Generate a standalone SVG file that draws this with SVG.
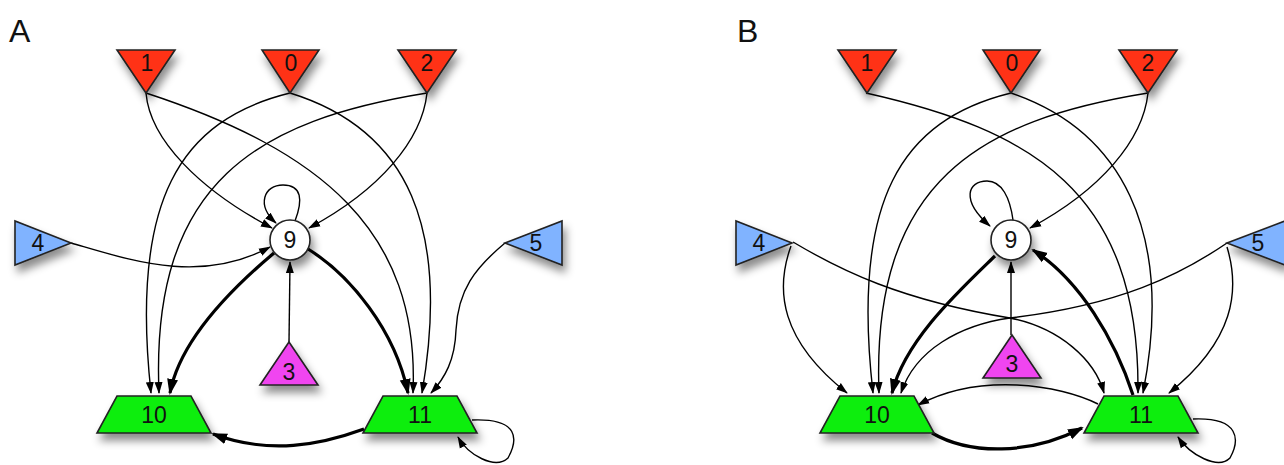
<svg xmlns="http://www.w3.org/2000/svg" width="1284" height="465" viewBox="0 0 1284 465">
<style>
.lbl{font-family:"Liberation Sans",Arial,sans-serif;font-size:23px;fill:#111;text-anchor:middle}
.pl{font-family:"Liberation Sans",Arial,sans-serif;font-size:32px;fill:#111}
.red{fill:#ff3314;stroke:#222;stroke-width:1.6}
.blue{fill:#80b3ff;stroke:#222;stroke-width:1.6}
.mag{fill:#f044f0;stroke:#222;stroke-width:1.6}
.grn{fill:#11ee11;stroke:#222;stroke-width:1.6}
.wht{fill:#fff;stroke:#222;stroke-width:1.6}
.e{fill:none;stroke:#000;stroke-width:1.4;marker-end:url(#a)}
.t{fill:none;stroke:#000;stroke-width:3.2;marker-end:url(#b)}
</style>
<defs>
<filter id="sh" x="-30%" y="-30%" width="170%" height="190%">
<feDropShadow dx="3" dy="7" stdDeviation="4" flood-color="#000" flood-opacity="0.45"/>
</filter>
<marker id="a" markerWidth="13" markerHeight="9" refX="11" refY="4.5" orient="auto" markerUnits="userSpaceOnUse"><path d="M0,0.5 L12,4.5 L0,8.5 Z" fill="#000"/></marker>
<marker id="b" markerWidth="17" markerHeight="12" refX="14" refY="6" orient="auto" markerUnits="userSpaceOnUse"><path d="M0,0.5 L16,6 L0,11.5 Z" fill="#000"/></marker>
</defs>
<rect width="1284" height="465" fill="#fff"/>
<text class="pl" x="9" y="42">A</text>
<text class="pl" x="737" y="42">B</text>

<g id="edges">
<!-- Panel A -->
<path class="e" d="M146,93 C150,140 200,190 272,228"/>
<path class="e" d="M427,93 C422,140 380,190 309,228"/>
<path class="e" d="M146,93 C320,150 420,230 413,393"/>
<path class="e" d="M290,93 C410,130 450,230 422,393"/>
<path class="e" d="M290,93 C180,120 130,200 151,393"/>
<path class="e" d="M427,93 C260,120 150,180 159,393"/>
<path class="e" d="M71,243 C130,260 200,285 270,247"/>
<path class="e" d="M289,342 L290,262"/>
<path class="e" d="M295,221 C303,200 302,185 283,185 C264,185 256,205 276,223"/>
<path class="t" d="M274,253 C230,290 180,340 170,393"/>
<path class="t" d="M308,249 C350,275 395,330 408,393"/>
<path class="e" d="M505,243 C475,268 458,290 456,330 C455,360 445,378 431,393"/>
<path class="t" d="M364,429 C320,445 270,455 213,434"/>
<path class="e" d="M472,420 C520,418 518,440 508,458 C495,470 468,455 458,437"/>
<!-- Panel B -->
<path class="e" d="M866,93 C1030,130 1140,190 1138,393"/>
<path class="e" d="M1011,93 C1120,130 1175,230 1143,393"/>
<path class="e" d="M1011,93 C901,120 851,200 873,393"/>
<path class="e" d="M1148,93 C981,120 871,180 879,393"/>
<path class="e" d="M1148,93 C1143,140 1101,190 1030,228"/>
<path class="e" d="M1013,220 C1010,198 1002,181 987,181 C968,181 960,200 990,226"/>
<path class="e" d="M1011,335 L1011,262"/>
<path class="t" d="M995,256 C960,290 905,340 892,393"/>
<path class="t" d="M1133,395 C1115,340 1080,280 1033,250"/>
<path class="e" d="M791,246 C775,290 780,340 847,393"/>
<path class="e" d="M793,242 C840,270 900,300 1010,318 C1060,328 1095,360 1104,393"/>
<path class="e" d="M1227,243 C1180,275 1120,305 1010,318 C960,325 915,350 901,393"/>
<path class="e" d="M1227,247 C1240,290 1235,340 1169,393"/>
<path class="e" d="M1098,404 C1060,385 980,372 918,405"/>
<path class="t" d="M932,433 C970,455 1030,455 1082,428"/>
<path class="e" d="M1193,419 C1240,417 1240,440 1230,458 C1218,470 1190,455 1178,437"/>
</g>

<!-- Panel A nodes -->
<g id="A1"><polygon class="red" filter="url(#sh)" points="117,50 175,50 146,93"/><text class="lbl" x="147" y="71">1</text></g>
<g id="A0"><polygon class="red" filter="url(#sh)" points="262,50 319,50 290,93"/><text class="lbl" x="291" y="71">0</text></g>
<g id="A2"><polygon class="red" filter="url(#sh)" points="398,50 456,50 427,93"/><text class="lbl" x="427" y="71">2</text></g>
<g id="A4"><polygon class="blue" filter="url(#sh)" points="15,221 15,265 71,243"/><text class="lbl" x="38" y="251">4</text></g>
<g id="A5"><polygon class="blue" filter="url(#sh)" points="562,221 562,265 505,243"/><text class="lbl" x="536" y="251">5</text></g>
<g id="A9"><circle class="wht" filter="url(#sh)" cx="290" cy="240" r="20"/><text class="lbl" x="290" y="248">9</text></g>
<g id="A3"><polygon class="mag" filter="url(#sh)" points="289,342 318,385 260,385"/><text class="lbl" x="289" y="380">3</text></g>
<g id="A10"><polygon class="grn" filter="url(#sh)" points="117,396 191,396 211,433 97,433"/><text class="lbl" x="154" y="423">10</text></g>
<g id="A11"><polygon class="grn" filter="url(#sh)" points="383,396 457,396 477,433 363,433"/><text class="lbl" x="420" y="423">11</text></g>

<!-- Panel B nodes -->
<g id="B1"><polygon class="red" filter="url(#sh)" points="838,50 896,50 867,93"/><text class="lbl" x="867" y="71">1</text></g>
<g id="B0"><polygon class="red" filter="url(#sh)" points="983,50 1040,50 1011,93"/><text class="lbl" x="1012" y="71">0</text></g>
<g id="B2"><polygon class="red" filter="url(#sh)" points="1119,50 1177,50 1148,93"/><text class="lbl" x="1148" y="71">2</text></g>
<g id="B4"><polygon class="blue" filter="url(#sh)" points="736,221 736,265 792,243"/><text class="lbl" x="759" y="251">4</text></g>
<g id="B5"><polygon class="blue" filter="url(#sh)" points="1285,221 1285,265 1227,243"/><text class="lbl" x="1258" y="251">5</text></g>
<g id="B9"><circle class="wht" filter="url(#sh)" cx="1011" cy="240" r="20"/><text class="lbl" x="1011" y="248">9</text></g>
<g id="B3"><polygon class="mag" filter="url(#sh)" points="1012,335 1041,378 983,378"/><text class="lbl" x="1012" y="372">3</text></g>
<g id="B10"><polygon class="grn" filter="url(#sh)" points="840,396 914,396 934,433 820,433"/><text class="lbl" x="877" y="423">10</text></g>
<g id="B11"><polygon class="grn" filter="url(#sh)" points="1104,396 1178,396 1198,433 1084,433"/><text class="lbl" x="1141" y="423">11</text></g>
</svg>
